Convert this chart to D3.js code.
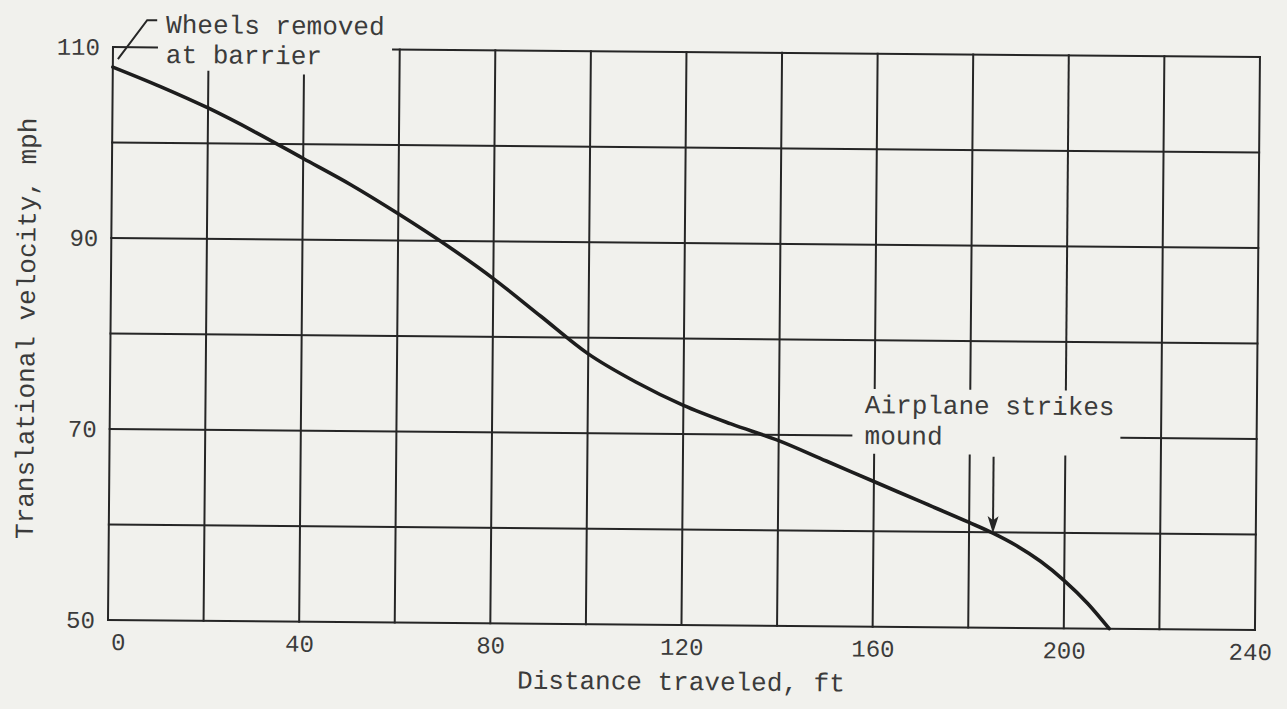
<!DOCTYPE html>
<html><head><meta charset="utf-8">
<script src="https://cdn.jsdelivr.net/npm/d3@7"></script>
<style>html,body{margin:0;padding:0;background:#f1f1ed;} svg{display:block;}</style>
</head><body><svg id="chart" width="1287" height="709"></svg>
<script>
// ---- data ----
const distance = [0, 10, 20, 30, 40, 50, 60, 70, 80, 90, 100, 110, 120, 130, 140, 150, 160, 170, 180, 185, 190, 195, 200, 205, 209.5];
const velocity = [107.9, 105.9, 103.7, 101.2, 98.5, 95.8, 92.8, 89.6, 86.1, 82.2, 78.3, 75.4, 73.0, 71.1, 69.4, 67.3, 65.2, 63.1, 61.0, 59.9, 58.6, 57.0, 55.0, 52.6, 50];
const xTicks = [0, 40, 80, 120, 160, 200, 240];
const yTicks = [50, 70, 90, 110];
const xGridValues = [0, 20, 40, 60, 80, 100, 120, 140, 160, 180, 200, 220, 240];
const yGridValues = [50, 60, 70, 80, 90, 100, 110];
const xTitle = "Distance traveled, ft";
const yTitle = "Translational velocity, mph";
const note1 = ["Wheels removed", "at barrier"];
const note2 = ["Airplane strikes", "mound"];
const moundDistance = 185;
const moundVelocity = 59.9;

// ---- layout ----
const W = 1287, H = 709;
const mLeft = 113, mRight = 1260, mTop = 47, mBottom = 620;
const FONT = "'Liberation Mono', 'DejaVu Sans Mono', monospace";
const INK = "#262626", TEXT = "#3b3b3b";

const svg = d3.select("#chart");
svg.append("rect").attr("width", W).attr("height", H).attr("fill", "#f1f1ed");

// the scanned sheet is slightly rotated
const g = svg.append("g").attr("transform", `rotate(0.5, ${mLeft}, ${mTop})`);

const x = d3.scaleLinear().domain([0, 240]).range([mLeft, mRight]);
const y = d3.scaleLinear().domain([50, 110]).range([mBottom, mTop]);

// grid segments (gaps where the annotations sit)
function vSegments(v) {
  if (v === 20) return [[50, 107.5]];
  if (v === 40) return [[50, 107.2]];
  if (v === 160 || v === 180 || v === 200) return [[50, 68], [75, 110]];
  return [[50, 110]];
}
function hSegments(v) {
  if (v === 110) return [[0, 9.2], [58.6, 240]];
  if (v === 70) return [[0, 155.2], [211.7, 240]];
  return [[0, 240]];
}
const grid = g.append("g").attr("stroke", INK).attr("stroke-width", 2).attr("stroke-linecap", "square");
xGridValues.forEach(v => vSegments(v).forEach(s => {
  grid.append("line").attr("x1", x(v)).attr("x2", x(v)).attr("y1", y(s[0])).attr("y2", y(s[1]));
}));
yGridValues.forEach(v => hSegments(v).forEach(s => {
  grid.append("line").attr("y1", y(v)).attr("y2", y(v)).attr("x1", x(s[0])).attr("x2", x(s[1]));
}));

// axes (labels only)
const xAxis = g.append("g").attr("transform", `translate(0,${mBottom})`)
  .call(d3.axisBottom(x).tickValues(xTicks).tickSize(0).tickPadding(13).tickFormat(d3.format("d")));
xAxis.select(".domain").remove();
xAxis.selectAll("text").attr("font-family", FONT).attr("font-size", 24).attr("fill", TEXT)
  .attr("dx", d => d === 0 ? 10 : (d === 240 ? -5 : 0));

const yAxis = g.append("g").attr("transform", `translate(${mLeft},0)`)
  .call(d3.axisLeft(y).tickValues(yTicks).tickSize(0).tickPadding(13).tickFormat(d3.format("d")));
yAxis.select(".domain").remove();
yAxis.selectAll("text").attr("font-family", FONT).attr("font-size", 24).attr("fill", TEXT);

// axis titles
g.append("text").attr("x", (mLeft + mRight) / 2).attr("y", 685)
  .attr("text-anchor", "middle").attr("font-family", FONT).attr("font-size", 26).attr("fill", TEXT)
  .text(xTitle);
g.append("text").attr("transform", "translate(37,329) rotate(-90)")
  .attr("text-anchor", "middle").attr("font-family", FONT).attr("font-size", 26).attr("fill", TEXT)
  .text(yTitle);

// curve
const pts = distance.map((d, i) => [d, velocity[i]]);
g.append("path").datum(pts)
  .attr("fill", "none").attr("stroke", "#1d1d1d").attr("stroke-width", 3.6).attr("stroke-linecap", "round")
  .attr("d", d3.line().x(d => x(d[0])).y(d => y(d[1])).curve(d3.curveMonotoneX));

// annotation: wheels removed
g.append("path").attr("fill", "none").attr("stroke", INK).attr("stroke-width", 2)
  .attr("d", d3.line()([[x(1.05), y(108.74)], [x(7.1), y(112.83)], [x(9.2), y(112.83)]]));
note1.forEach((t, i) => g.append("text").attr("x", 166).attr("y", 32.5 + i * 30)
  .attr("font-family", FONT).attr("font-size", 26).attr("fill", TEXT).text(t));

// annotation: airplane strikes mound
note2.forEach((t, i) => g.append("text").attr("x", 868).attr("y", 406.5 + i * 31)
  .attr("font-family", FONT).attr("font-size", 26).attr("fill", TEXT).text(t));
const ax = x(moundDistance), tipY = y(moundVelocity), topY = y(67.9);
g.append("line").attr("x1", ax).attr("x2", ax).attr("y1", topY).attr("y2", tipY - 10)
  .attr("stroke", INK).attr("stroke-width", 2);
g.append("path").attr("fill", INK)
  .attr("d", `M${ax},${tipY} L${ax - 5.5},${tipY - 17} L${ax},${tipY - 13} L${ax + 5.5},${tipY - 17} Z`);
</script></body></html>
